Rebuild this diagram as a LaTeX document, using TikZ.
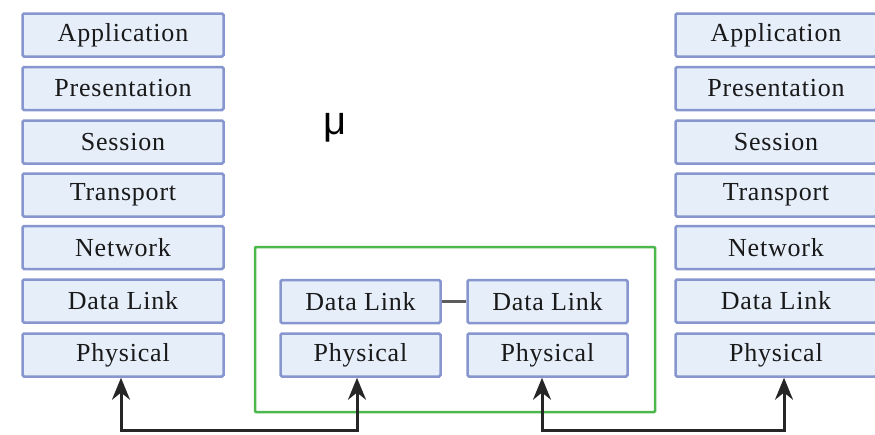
\documentclass[tikz,border=0pt]{standalone}
\usepackage{fontspec}
\setmainfont{Liberation Serif}[LetterSpace=3]
\newfontfamily\sansf{Liberation Sans}
\usetikzlibrary{arrows.meta}
\definecolor{boxfill}{HTML}{E6EEFA}
\definecolor{boxdraw}{HTML}{8796CE}
\definecolor{grn}{HTML}{4CB84C}
\definecolor{conncol}{HTML}{262626}
\tikzset{
  layerbox/.style={draw=boxdraw, fill=boxfill, line width=2.5pt, rounded corners=1.5pt,
    minimum height=43pt, inner sep=0pt, text=black!90, font=\fontsize{26}{30}\selectfont},
  widebox/.style={layerbox, minimum width=201pt},
  narrowbox/.style={layerbox, minimum width=160pt},
  conn/.style={draw=conncol, line width=3pt, {Stealth[length=22pt,width=18pt]}-{Stealth[length=22pt,width=18pt]}},
  greenframe/.style={draw=grn, line width=2.5pt, rounded corners=1pt},
}
\begin{document}
\begin{tikzpicture}[x=1pt,y=-1pt]
\useasboundingbox (0,0) rectangle (875,434);
% left stack
\node[widebox] (LA) at (123,35) {Application};
\node[widebox] (LP) at (123,88.5) {Presentation};
\node[widebox] (LS) at (123,142) {Session};
\node[widebox] (LT) at (123,195) {Transport};
\node[widebox] (LN) at (123,247.5) {Network};
\node[widebox] (LD) at (123,301) {Data Link};
\node[widebox] (LPh) at (123,355) {Physical};
% right stack
\node[widebox] (RA) at (776,35) {Application};
\node[widebox] (RP) at (776,88.5) {Presentation};
\node[widebox] (RS) at (776,142) {Session};
\node[widebox] (RT) at (776,195) {Transport};
\node[widebox] (RN) at (776,247.5) {Network};
\node[widebox] (RD) at (776,301) {Data Link};
\node[widebox] (RPh) at (776,355) {Physical};
% middle
\draw[greenframe] (255,247) rectangle (655,412);
\node[narrowbox] (MD1) at (360.5,301.5) {Data Link};
\node[narrowbox] (MP1) at (360.5,355) {Physical};
\node[narrowbox] (MD2) at (547.5,301.5) {Data Link};
\node[narrowbox] (MP2) at (547.5,355) {Physical};
\draw[draw=conncol!75, line width=3pt] (MD1.east) -- (MD2.west);
% mu
\node[font=\sansf\fontsize{40}{44}\selectfont, inner sep=0pt] (mu) at (335,128) {μ};
% connectors
\coordinate (b1) at (121,430);
\coordinate (b2) at (542,430);
\draw[conn] ([xshift=-2pt]LPh.south) |- (b1) -| ([xshift=-3.5pt]MP1.south);
\draw[conn] ([xshift=-5.5pt]MP2.south) |- (b2) -| ([xshift=8pt]RPh.south);
\end{tikzpicture}
\end{document}
